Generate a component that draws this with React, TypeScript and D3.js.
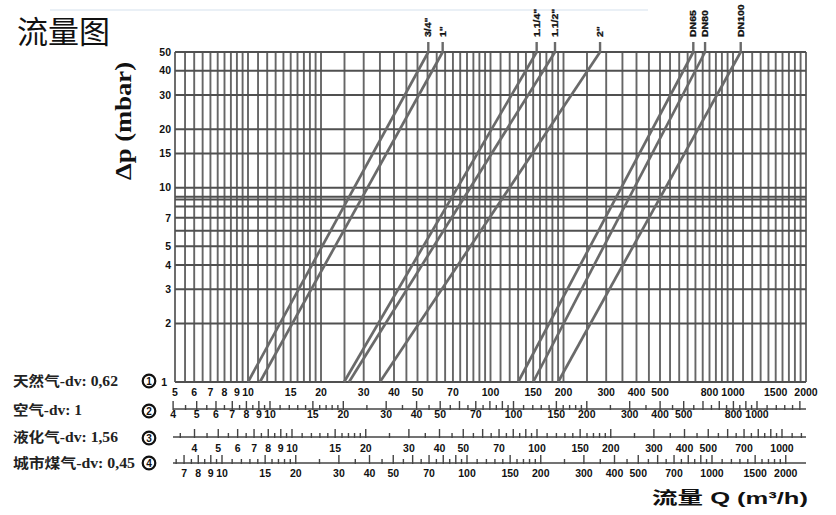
import React from 'react';
import * as d3 from 'd3';

// ---- data ----
const sizeLabels = ['3/4"', '1"', '1.1/4"', '1.1/2"', '2"', 'DN65', 'DN80', 'DN100'];
// natural-gas flow (m3/h) where each size line meets Δp = 1 mbar and Δp = 50 mbar
const flowAtDp1 = [10.0, 11.2, 24.9, 26.1, 35.0, 130, 150, 190];
const flowAtDp50 = [55.4, 63.5, 155, 184.5, 283, 686, 767, 1076];

const dpTickLabels = [1, 2, 3, 4, 5, 7, 10, 15, 20, 30, 40, 50];
const dpGridValues = [2, 3, 4, 5, 6, 7, 8, 8.7, 9, 10, 15, 20, 30, 40, 50];

const gridMantissas = [1, 1.1, 1.2, 1.3, 1.4, 1.5, 1.6, 1.7, 1.8, 1.9, 2, 2.5, 3, 3.5, 4, 4.5, 5, 5.5, 6, 6.5, 7, 7.5, 8, 8.5, 9, 9.5];
const majorMantissas = [1, 1.5, 2, 3, 4, 5, 6, 7, 8, 9];
const decades = [0.1, 1, 10, 100, 1000];

const natGasLabels = [5, 6, 7, 8, 9, 10, 15, 20, 30, 40, 50, 70, 100, 150, 200, 300, 400, 500, 800, 1000, 1500, 2000];
const airLabels = [4, 5, 6, 7, 8, 9, 10, 15, 20, 30, 40, 50, 70, 100, 150, 200, 300, 400, 500, 800, 1000];
const lpgLabels = [4, 5, 6, 7, 8, 9, 10, 15, 20, 30, 40, 50, 70, 100, 150, 200, 300, 400, 500, 700, 1000];
const townLabels = [7, 8, 9, 10, 15, 20, 30, 40, 50, 70, 100, 150, 200, 300, 400, 500, 700, 1000, 1500, 2000];

const gasNames = ['天然气', '空气', '液化气', '城市煤气'];
const gasDv = ['0,62', '1', '1,56', '0,45'];
const scaleNumbers = ['1', '2', '3', '4'];

// ---- layout ----
const W = 836, H = 515;
const X0 = 175, X1 = 806, Y0 = 52, Y1 = 382;

const x = d3.scaleLog().domain([5, 2000]).range([X0, X1]);
const y = d3.scaleLog().domain([1, 50]).range([Y1, Y0]);
const xAir = d3.scaleLog().domain([10, 1000]).range([270, 757]);
const xLpg = d3.scaleLog().domain([10, 1000]).range([292, 782]);
const xTown = d3.scaleLog().domain([10, 1000]).range([222, 712]);

const rnd = (v: number) => Math.round(v * 1000) / 1000;
const allTicks = (lo: number, hi: number) => {
  const out: { v: number; major: boolean }[] = [];
  decades.forEach((d) => gridMantissas.forEach((m) => {
    const v = rnd(m * d);
    if (v >= lo - 1e-9 && v <= hi + 1e-9 && !out.some((o) => Math.abs(o.v - v) < 1e-9)) {
      out.push({ v, major: majorMantissas.includes(m) });
    }
  }));
  return out;
};

const rows = [
  { scale: xAir, lineY: 409, labelY: 418, lo: 3.9, hi: 1550, labels: airLabels },
  { scale: xLpg, lineY: 437, labelY: 452, lo: 3.5, hi: 1200, labels: lpgLabels },
  { scale: xTown, lineY: 463, labelY: 477, lo: 6.5, hi: 2000, labels: townLabels },
];

const numFont = '"Liberation Sans", Arial, sans-serif';
const cjkFont = '"Noto Sans CJK SC", sans-serif';
const serifFont = '"Liberation Serif", "Times New Roman", serif';

// text widths (styling) of the legend entries
const legendWidths = [105, 69, 105, 122];
const legendY = [381, 410, 437, 463];
const circY = [381, 411, 438, 463];

export default function App() {
  const vGrid = allTicks(5, 2000);
  const line = d3.line<[number, number]>().x((d) => x(d[0])).y((d) => y(d[1]));
  return (
    <svg width={W} height={H} style={{ position: 'absolute', left: 0, top: 0, background: '#fff' }}>
      <rect x={0} y={0} width={W} height={H} fill="#fff" />
      <line x1={50} x2={648} y1={10} y2={10} stroke="#e3ebf3" strokeWidth={1.5} />
      {/* title */}
      <text x={17} y={43} fontFamily={cjkFont} fontSize={31} fill="#111">流量图</text>

      {/* vertical grid */}
      {vGrid.map((t, i) => (
        <line key={'v' + i} x1={x(t.v)} x2={x(t.v)} y1={Y0} y2={Y1} stroke="#666" strokeWidth={1.9} />
      ))}
      {/* horizontal grid */}
      {dpGridValues.map((v, i) => (
        <line key={'h' + i} x1={X0} x2={X1} y1={y(v)} y2={y(v)} stroke="#505050" strokeWidth={2} />
      ))}
      <line x1={X0} x2={X1} y1={Y1} y2={Y1} stroke="#505050" strokeWidth={2} />

      {/* size lines */}
      {sizeLabels.map((s, i) => {
        const xt = x(flowAtDp50[i]);
        return (
          <g key={'s' + i}>
            <path d={line([[flowAtDp1[i], 1], [flowAtDp50[i], 50]]) || ''} stroke="#6a6a6a" strokeWidth={2.7} fill="none" />
            <line x1={xt} x2={xt} y1={Y0} y2={Y0 - 10} stroke="#6a6a6a" strokeWidth={2.4} />
            <text transform={`translate(${xt + 3},${Y0 - 15}) rotate(-90) scale(1.05,0.85)`} fontFamily={numFont} fontWeight={700} fontSize={10} fill="#111" stroke="#111" strokeWidth={0.35}>{s}</text>
          </g>
        );
      })}

      {/* y tick labels */}
      {dpTickLabels.map((v, i) => (
        <text key={'yl' + i} x={v === 1 ? 167 : 171} y={y(v)} dy="0.35em" textAnchor="end" fontFamily={numFont} fontWeight={700} fontSize={10.5} fill="#111">{v}</text>
      ))}
      <text transform={`translate(131,121) rotate(-90)`} textAnchor="middle" fontFamily={serifFont} fontWeight={700} fontSize={24} textLength={118} lengthAdjust="spacingAndGlyphs" fill="#111">Δp (mbar)</text>

      {/* row 1 labels (main axis) */}
      {natGasLabels.map((v, i) => (
        <text key={'n' + i} x={x(v)} y={396} textAnchor="middle" fontFamily={numFont} fontWeight={700} fontSize={10.5} fill="#111">{v}</text>
      ))}

      {/* extra gas scales */}
      {rows.map((r, ri) => (
        <g key={'r' + ri}>
          <line x1={173} x2={X1} y1={r.lineY} y2={r.lineY} stroke="#444" strokeWidth={1.6} />
          {allTicks(r.lo, r.hi).map((t, ti) => (
            <line key={ti} x1={r.scale(t.v)} x2={r.scale(t.v)} y1={r.lineY - (t.major ? 8 : 4)} y2={r.lineY + 1} stroke="#444" strokeWidth={1.4} />
          ))}
          {r.labels.map((v, li) => (
            <text key={'l' + li} x={r.scale(v)} y={r.labelY} textAnchor="middle" fontFamily={numFont} fontWeight={700} fontSize={10.5} fill="#111">{v}</text>
          ))}
        </g>
      ))}

      {/* left legend */}
      {gasNames.map((g, i) => (
        <g key={'g' + i}>
          <text x={13} y={legendY[i]} dy="0.36em" fontWeight={700} fontSize={14} fill="#222" textLength={legendWidths[i]} lengthAdjust="spacingAndGlyphs">
            <tspan fontFamily={cjkFont}>{g}</tspan>
            <tspan fontFamily={serifFont}>{'-dv: ' + gasDv[i]}</tspan>
          </text>
          <circle cx={149} cy={circY[i]} r={6.3} fill="#fff" stroke="#111" strokeWidth={2.2} />
          <text x={149} y={circY[i]} dy="0.36em" textAnchor="middle" fontFamily={numFont} fontWeight={700} fontSize={10} fill="#111">{scaleNumbers[i]}</text>
        </g>
      ))}

      {/* x axis title */}
      <text x={652} y={504} fontWeight={700} fontSize={17} fill="#111" textLength={156} lengthAdjust="spacingAndGlyphs">
        <tspan fontFamily={cjkFont}>流量</tspan>
        <tspan fontFamily={numFont}>{' Q  (m³/h)'}</tspan>
      </text>
    </svg>
  );
}
